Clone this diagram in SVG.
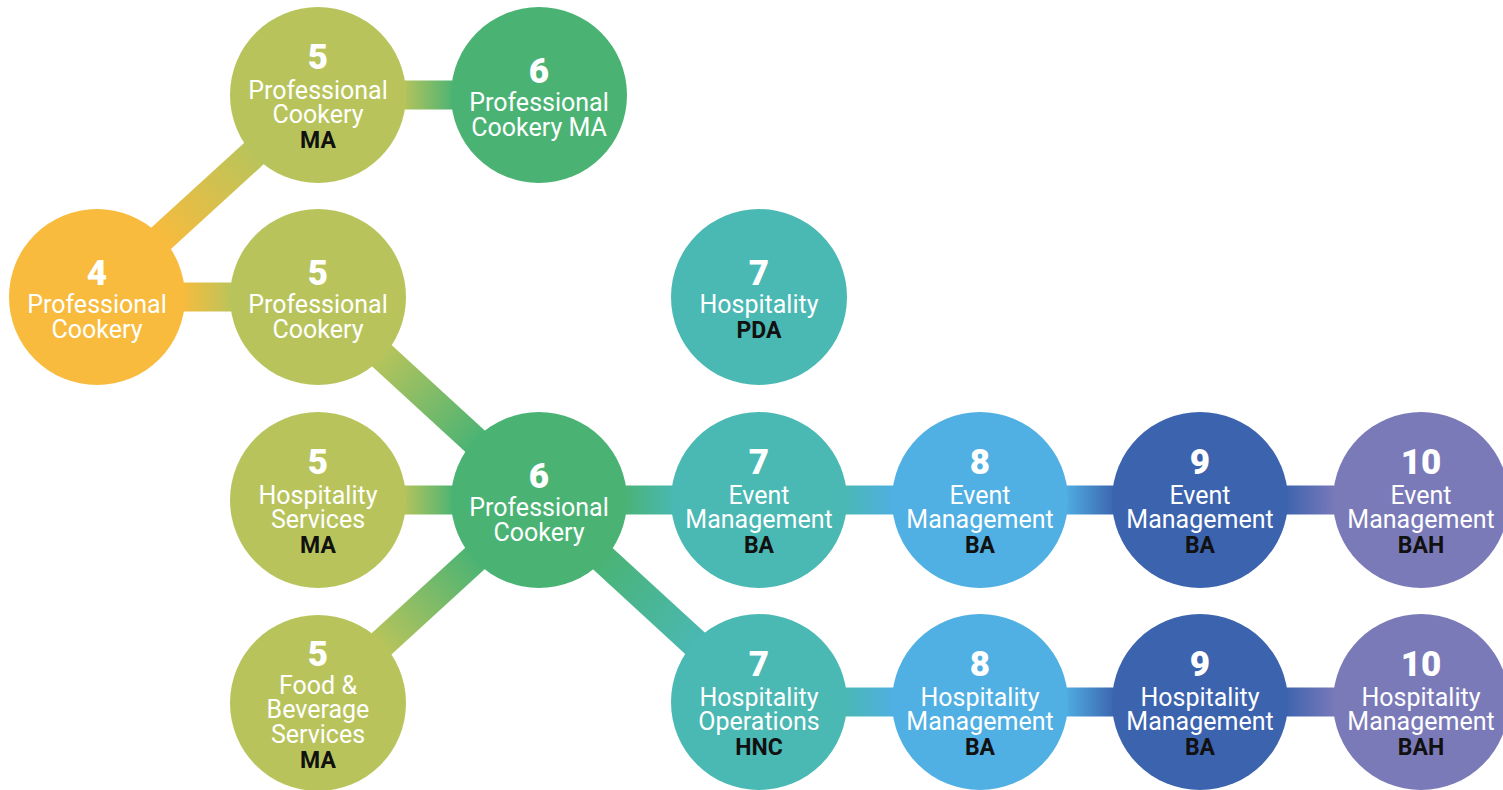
<svg xmlns="http://www.w3.org/2000/svg" width="1503" height="790" viewBox="0 0 1503 790">
<defs>
<style>
.lbl{font-family:Roboto,"Liberation Sans",Arial,sans-serif;font-size:25px;fill:#ffffff;text-anchor:middle}
.num{font-family:Roboto,"Liberation Sans",Arial,sans-serif;font-size:35px;font-weight:900;fill:#ffffff;text-anchor:middle}
.q{font-family:Roboto,"Liberation Sans",Arial,sans-serif;font-size:23px;font-weight:700;fill:#111111;text-anchor:middle}
.c4{fill:#F8BB3D}.c5{fill:#B8C45B}.c6{fill:#4AB374}.c7{fill:#4AB8B3}.c8{fill:#50AFE3}.c9{fill:#3C63AE}.c10{fill:#7B7AB9}
</style>
<linearGradient id="g45"><stop offset="0" stop-color="#F8BB3D"/><stop offset="1" stop-color="#B8C45B"/></linearGradient>
<linearGradient id="g56"><stop offset="0" stop-color="#B8C45B"/><stop offset="1" stop-color="#4AB374"/></linearGradient>
<linearGradient id="g67"><stop offset="0" stop-color="#4AB374"/><stop offset="1" stop-color="#4AB8B3"/></linearGradient>
<linearGradient id="g78"><stop offset="0" stop-color="#4AB8B3"/><stop offset="1" stop-color="#50AFE3"/></linearGradient>
<linearGradient id="g89"><stop offset="0" stop-color="#50AFE3"/><stop offset="1" stop-color="#3C63AE"/></linearGradient>
<linearGradient id="g910"><stop offset="0" stop-color="#3C63AE"/><stop offset="1" stop-color="#7B7AB9"/></linearGradient>
</defs>
<rect width="1503" height="790" fill="#ffffff"/>
<g id="connectors">
<rect x="84" y="-14.5" width="131.4" height="29" fill="url(#g45)" transform="translate(97,297) rotate(-42.43)"/>
<rect x="402" y="80.5" width="53" height="29" fill="url(#g56)"/>
<rect x="181" y="282.5" width="53" height="29" fill="url(#g45)"/>
<rect x="84" y="-14.5" width="132.1" height="29" fill="url(#g56)" transform="translate(318,297) rotate(42.57)"/>
<rect x="402" y="485.5" width="53" height="29" fill="url(#g56)"/>
<rect x="84" y="-14.5" width="131.4" height="29" fill="url(#g56)" transform="translate(318,702) rotate(-42.43)"/>
<rect x="623" y="485.5" width="52" height="29" fill="url(#g67)"/>
<rect x="84" y="-14.5" width="130.7" height="29" fill="url(#g67)" transform="translate(539,500) rotate(42.56)"/>
<rect x="843" y="485.5" width="53" height="29" fill="url(#g78)"/>
<rect x="1064" y="485.5" width="52" height="29" fill="url(#g89)"/>
<rect x="1284" y="485.5" width="53" height="29" fill="url(#g910)"/>
<rect x="843" y="687.5" width="53" height="29" fill="url(#g78)"/>
<rect x="1064" y="687.5" width="52" height="29" fill="url(#g89)"/>
<rect x="1284" y="687.5" width="53" height="29" fill="url(#g910)"/>
</g>
<g id="n4"><circle class="c4" cx="97" cy="297" r="88"/>
<text class="num" x="97" y="285">4</text><text class="lbl" x="97" y="313">Professional</text><text class="lbl" x="97" y="338">Cookery</text></g>
<g id="n5a"><circle class="c5" cx="318" cy="95" r="88"/>
<text class="num" x="318" y="69">5</text><text class="lbl" x="318" y="99">Professional</text><text class="lbl" x="318" y="123">Cookery</text><text class="q" x="318" y="148">MA</text></g>
<g id="n6a"><circle class="c6" cx="539" cy="95" r="88"/>
<text class="num" x="539" y="83">6</text><text class="lbl" x="539" y="111">Professional</text><text class="lbl" x="539" y="136">Cookery MA</text></g>
<g id="n5b"><circle class="c5" cx="318" cy="297" r="88"/>
<text class="num" x="318" y="285">5</text><text class="lbl" x="318" y="313">Professional</text><text class="lbl" x="318" y="338">Cookery</text></g>
<g id="n7pda"><circle class="c7" cx="759" cy="297" r="88"/>
<text class="num" x="759" y="285">7</text><text class="lbl" x="759" y="313">Hospitality</text><text class="q" x="759" y="338">PDA</text></g>
<g id="n5c"><circle class="c5" cx="318" cy="500" r="88"/>
<text class="num" x="318" y="474">5</text><text class="lbl" x="318" y="504">Hospitality</text><text class="lbl" x="318" y="528">Services</text><text class="q" x="318" y="553">MA</text></g>
<g id="n6b"><circle class="c6" cx="539" cy="500" r="88"/>
<text class="num" x="539" y="488">6</text><text class="lbl" x="539" y="516">Professional</text><text class="lbl" x="539" y="541">Cookery</text></g>
<g id="n7e"><circle class="c7" cx="759" cy="500" r="88"/>
<text class="num" x="759" y="474">7</text><text class="lbl" x="759" y="504">Event</text><text class="lbl" x="759" y="528">Management</text><text class="q" x="759" y="553">BA</text></g>
<g id="n8e"><circle class="c8" cx="980" cy="500" r="88"/>
<text class="num" x="980" y="474">8</text><text class="lbl" x="980" y="504">Event</text><text class="lbl" x="980" y="528">Management</text><text class="q" x="980" y="553">BA</text></g>
<g id="n9e"><circle class="c9" cx="1200" cy="500" r="88"/>
<text class="num" x="1200" y="474">9</text><text class="lbl" x="1200" y="504">Event</text><text class="lbl" x="1200" y="528">Management</text><text class="q" x="1200" y="553">BA</text></g>
<g id="n10e"><circle class="c10" cx="1421" cy="500" r="88"/>
<text class="num" x="1421" y="474">10</text><text class="lbl" x="1421" y="504">Event</text><text class="lbl" x="1421" y="528">Management</text><text class="q" x="1421" y="553">BAH</text></g>
<g id="n5d"><circle class="c5" cx="318" cy="703" r="88"/>
<text class="num" x="318" y="666">5</text><text class="lbl" x="318" y="694">Food &amp;</text><text class="lbl" x="318" y="718">Beverage</text><text class="lbl" x="318" y="743">Services</text><text class="q" x="318" y="768">MA</text></g>
<g id="n7h"><circle class="c7" cx="759" cy="702" r="88"/>
<text class="num" x="759" y="676">7</text><text class="lbl" x="759" y="706">Hospitality</text><text class="lbl" x="759" y="730">Operations</text><text class="q" x="759" y="755">HNC</text></g>
<g id="n8h"><circle class="c8" cx="980" cy="702" r="88"/>
<text class="num" x="980" y="676">8</text><text class="lbl" x="980" y="706">Hospitality</text><text class="lbl" x="980" y="730">Management</text><text class="q" x="980" y="755">BA</text></g>
<g id="n9h"><circle class="c9" cx="1200" cy="702" r="88"/>
<text class="num" x="1200" y="676">9</text><text class="lbl" x="1200" y="706">Hospitality</text><text class="lbl" x="1200" y="730">Management</text><text class="q" x="1200" y="755">BA</text></g>
<g id="n10h"><circle class="c10" cx="1421" cy="702" r="88"/>
<text class="num" x="1421" y="676">10</text><text class="lbl" x="1421" y="706">Hospitality</text><text class="lbl" x="1421" y="730">Management</text><text class="q" x="1421" y="755">BAH</text></g>
</svg>
